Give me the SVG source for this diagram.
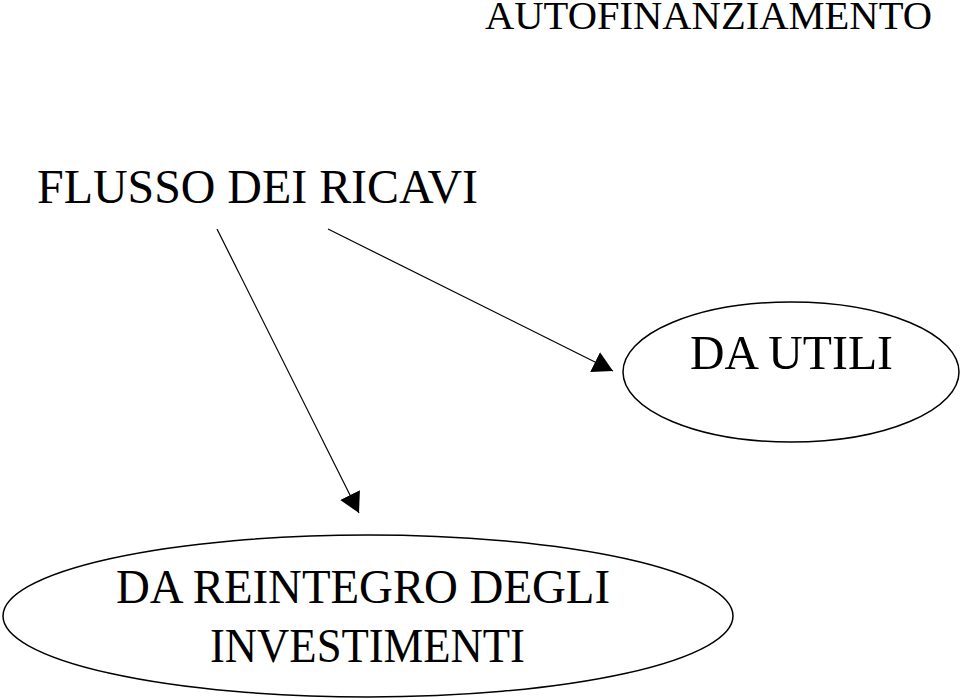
<svg xmlns="http://www.w3.org/2000/svg" width="960" height="700" viewBox="0 0 960 700">
<style>
  .t { font-family: "Liberation Serif", "Times New Roman", serif; fill: #000; }
  .node { fill: #fff; stroke: #000; stroke-width: 1.5; }
  .edge { stroke: #000; stroke-width: 1.2; fill: none; marker-end: url(#arr); }
</style>
<defs>
  <marker id="arr" viewBox="0 0 20 22" refX="20" refY="11" markerWidth="20" markerHeight="22" markerUnits="userSpaceOnUse" orient="auto">
    <path d="M0,0 L20,11 L0,22 Z" fill="#000"/>
  </marker>
</defs>
<rect width="960" height="700" fill="#fff"/>
<g id="title">
  <text class="t" x="485" y="29" font-size="39" textLength="447" lengthAdjust="spacingAndGlyphs">AUTOFINANZIAMENTO</text>
</g>
<g id="flusso">
  <text class="t" x="37" y="203" font-size="48" textLength="441" lengthAdjust="spacingAndGlyphs">FLUSSO DEI RICAVI</text>
</g>
<g id="utili">
  <ellipse class="node" cx="791" cy="372" rx="168" ry="70"/>
  <text class="t" x="690" y="369" font-size="49" textLength="203" lengthAdjust="spacingAndGlyphs">DA UTILI</text>
</g>
<g id="reintegro">
  <ellipse class="node" cx="368" cy="616" rx="365" ry="81"/>
  <text class="t" x="116" y="603" font-size="48" textLength="494" lengthAdjust="spacingAndGlyphs">DA REINTEGRO DEGLI</text>
  <text class="t" x="210" y="662" font-size="48" textLength="315" lengthAdjust="spacingAndGlyphs">INVESTIMENTI</text>
</g>
<g id="connectors">
  <line class="edge" x1="217" y1="229" x2="359" y2="513"/>
  <line class="edge" x1="328" y1="229" x2="613" y2="371"/>
</g>
</svg>
